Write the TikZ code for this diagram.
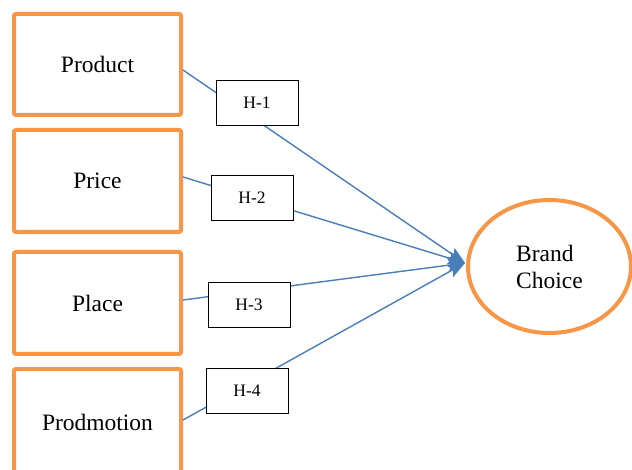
\documentclass[tikz,border=0pt]{standalone}
\usepackage{fontspec}
\setmainfont{Liberation Serif}
\usetikzlibrary{arrows.meta,shapes.geometric}
\definecolor{orangeb}{HTML}{F79646}
\definecolor{blueln}{HTML}{4A7EBB}
\begin{document}
\begin{tikzpicture}[x=1pt,y=-1pt,
  factor/.style={draw=orangeb,line width=4pt,rounded corners=2pt,minimum width=167pt,inner sep=0pt,
    font=\fontsize{23.5}{27}\selectfont},
  hbox/.style={draw=black,line width=0.8pt,fill=white,minimum width=82pt,minimum height=45pt,inner sep=0pt,
    font=\fontsize{17.5}{20}\selectfont},
  link/.style={draw=blueln,line width=1.4pt,-{Stealth[length=17pt,width=13pt,inset=3pt]}}]
\useasboundingbox (0,0) rectangle (632,470);
\begin{scope}
\clip (0,0) rectangle (632,470);
\node[factor,minimum height=101pt] (product) at (97.5,64.5) {Product};
\node[factor,minimum height=102pt] (price) at (97.5,181) {Price};
\node[factor,minimum height=102pt] (place) at (97.5,303) {Place};
\node[factor,minimum height=106pt] (promo) at (97.5,422) {Prodmotion};
\node[draw=orangeb,line width=4pt,ellipse,minimum width=163pt,minimum height=133pt,inner sep=0pt,
  align=left,font=\fontsize{23.5}{27}\selectfont] (brand) at (549.5,266.5) {\raisebox{0pt}{Brand}\\Choice};
\coordinate (tip) at (465,263);
\draw[link] ([yshift=-5.5pt]product.east) -- (tip);
\draw[link] ([yshift=4pt]price.east) -- (tip);
\draw[link] ([yshift=3pt]place.east) -- (tip);
\draw[link] ([yshift=2pt]promo.east) -- (tip);
\node[hbox] (h1) at (257,102.5) {H-1};
\node[hbox] (h2) at (252,197.5) {H-2};
\node[hbox] (h3) at (249,304.5) {H-3};
\node[hbox] (h4) at (247,390.5) {H-4};
\end{scope}
\end{tikzpicture}
\end{document}
